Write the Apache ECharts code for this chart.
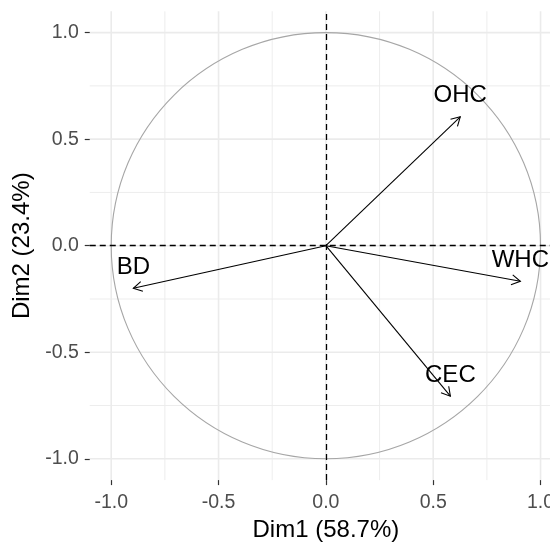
<!DOCTYPE html>
<html><head><meta charset="utf-8">
<script src="https://cdn.jsdelivr.net/npm/echarts@6/dist/echarts.min.js"></script>
<style>html,body{margin:0;padding:0;background:#fff;overflow:hidden}#c{width:562px;height:547px}</style>
</head><body><div id="c"></div>
<script>
// ---- data ----
const variables = ['OHC', 'WHC', 'BD', 'CEC'];
const dim1 = [0.626, 0.906, -0.897, 0.580];
const dim2 = [0.605, -0.167, -0.200, -0.706];
const tickValues = [-1.0, -0.5, 0.0, 0.5, 1.0];
const minorValues = [-0.75, -0.25, 0.25, 0.75];
const circleRadius = 1;
const xTitle = 'Dim1 (58.7%)';
const yTitle = 'Dim2 (23.4%)';
const AX_MIN = -1.1, AX_MAX = 1.1;

const FONT = 'Liberation Sans, Arial, sans-serif';
const chart = echarts.init(document.getElementById('c'), null, {renderer: 'canvas'});

const gridData = tickValues.map(v => [v, 1]).concat(minorValues.map(v => [v, 0]));
const arrowData = variables.map((n, i) => [dim1[i], dim2[i]]);

function gridRender(vertical) {
  return function (params, api) {
    const v = api.value(0), major = api.value(1);
    const p1 = vertical ? api.coord([v, AX_MIN]) : api.coord([AX_MIN, v]);
    const p2 = vertical ? api.coord([v, AX_MAX]) : api.coord([AX_MAX, v]);
    return {type: 'line', silent: true,
      shape: {x1: p1[0], y1: p1[1], x2: p2[0], y2: p2[1]},
      style: {stroke: '#EBEBEB', lineWidth: major ? 1.6 : 0.9}};
  };
}

const fmt = v => (Math.abs(v) < 1e-9 ? 0 : v).toFixed(1);

const option = {
  animation: false,
  backgroundColor: '#fff',
  grid: {left: 89.75, right: 0, top: 11.3, bottom: 64.3, containLabel: false},
  xAxis: {
    type: 'value', min: AX_MIN, max: AX_MAX,
    axisLine: {show: false, onZero: false},
    splitLine: {show: false},
    axisTick: {show: true, customValues: tickValues, length: 5, lineStyle: {color: '#333', width: 1.2}},
    axisLabel: {customValues: tickValues, formatter: fmt, fontSize: 19.5, color: '#4D4D4D', margin: 13, fontFamily: FONT},
    name: xTitle, nameLocation: 'middle', nameGap: 23,
    nameTextStyle: {fontSize: 24, color: '#000', fontFamily: FONT}
  },
  yAxis: {
    type: 'value', min: AX_MIN, max: AX_MAX,
    axisLine: {show: false, onZero: false},
    splitLine: {show: false},
    axisTick: {show: true, customValues: tickValues, length: 5, lineStyle: {color: '#333', width: 1.2}},
    axisLabel: {customValues: tickValues, formatter: fmt, fontSize: 19.5, color: '#4D4D4D', margin: 11, fontFamily: FONT},
    name: yTitle, nameLocation: 'middle', nameGap: 45, nameRotate: 90,
    nameTextStyle: {fontSize: 24, color: '#000', fontFamily: FONT}
  },
  series: [
    {type: 'custom', data: gridData, renderItem: gridRender(true), z: 0, silent: true, clip: false},
    {type: 'custom', data: gridData, renderItem: gridRender(false), z: 0, silent: true, clip: false},
    {
      type: 'custom', data: [[0, 0]], z: 1, silent: true, clip: false,
      renderItem: function (params, api) {
        const c = api.coord([api.value(0), api.value(1)]);
        const r = api.size([circleRadius, circleRadius]);
        return {type: 'ellipse', shape: {cx: c[0], cy: c[1], rx: r[0], ry: r[1]},
          style: {stroke: '#A6A6A6', lineWidth: 1.1, fill: null}};
      }
    },
    {
      type: 'custom', data: arrowData, z: 3, silent: true, clip: false,
      renderItem: function (params, api) {
        const x = api.value(0), y = api.value(1);
        const o = api.coord([0, 0]), t = api.coord([x, y]);
        const ang = Math.atan2(t[1] - o[1], t[0] - o[0]);
        const L = 10, a = Math.PI / 6;
        const h1 = [t[0] - L * Math.cos(ang - a), t[1] - L * Math.sin(ang - a)];
        const h2 = [t[0] - L * Math.cos(ang + a), t[1] - L * Math.sin(ang + a)];
        return {type: 'group', children: [
          {type: 'line', shape: {x1: o[0], y1: o[1], x2: t[0], y2: t[1]}, style: {stroke: '#000', lineWidth: 1.1}},
          {type: 'polyline', shape: {points: [h1, t, h2]}, style: {stroke: '#000', lineWidth: 1.1, fill: null}},
          {type: 'text', x: t[0], y: t[1] - 21,
            style: {text: variables[params.dataIndex], fill: '#000', font: '24px ' + FONT, align: 'center', verticalAlign: 'middle'}}
        ]};
      },
      markLine: {
        silent: true, symbol: ['none', 'none'], label: {show: false},
        lineStyle: {type: [6, 4], color: '#000', width: 1.3},
        data: [{xAxis: 0}, {yAxis: 0}]
      }
    }
  ]
};
chart.setOption(option);
</script>
</body></html>
